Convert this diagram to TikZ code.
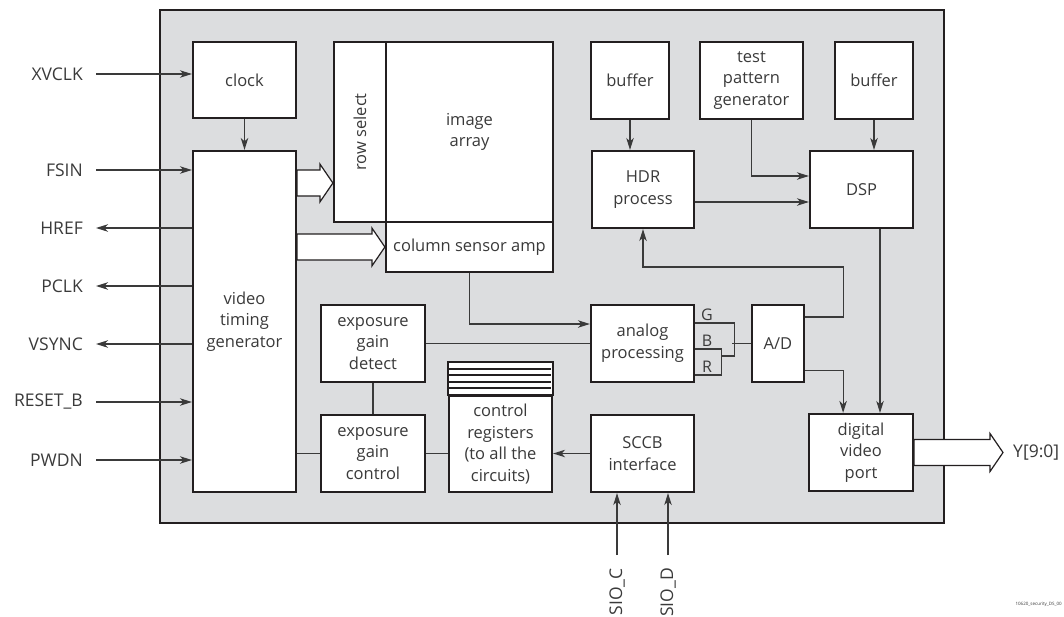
\documentclass[tikz,border=0pt]{standalone}
\usepackage{fontspec}
\usepackage{graphicx}
\setmainfont{Open Sans}
\usepackage{tikz}
\usetikzlibrary{arrows.meta,calc}
\definecolor{chipgray}{HTML}{DCDDDF}
\definecolor{inkdark}{HTML}{231F20}
\definecolor{wiregray}{HTML}{3A3A3A}
\newcommand{\busarrow}[2]{%
  \draw[bus] ($#1+(0,-13)$) -- ($#2+(-13,-13)$) -- ($#2+(-13,-19)$) -- #2
    -- ($#2+(-13,19)$) -- ($#2+(-13,13)$) -- ($#1+(0,13)$) -- cycle;}

\begin{document}
\begin{tikzpicture}[
  x=1pt, y=-1pt,
  chip/.style={draw=inkdark, line width=2pt, fill=chipgray},
  blk/.style={draw=inkdark, line width=2.2pt, fill=white, align=center, inner sep=0pt, text=wiregray, font=\fontsize{16.5}{21.7}\selectfont},
  stack/.style={draw=inkdark, line width=2pt},
  sig/.style={draw=wiregray, line width=1.2pt, -{Stealth[length=12pt, width=7.5pt, inset=3.5pt]}},
  wire/.style={draw=wiregray, line width=1.2pt},
  bus/.style={draw=inkdark, line width=1.2pt, fill=white},
  pinl/.style={anchor=east, inner xsep=13pt, inner ysep=0pt, text=wiregray, font=\fontsize{17.5}{20}\selectfont},
  chan/.style={inner sep=0pt, text=wiregray, font=\fontsize{16}{18}\selectfont}
]
\useasboundingbox (0,0) rectangle (1064,616);
\draw[chip] (160,10) rectangle (944,523);

% blocks
\node[blk, minimum width=103pt, minimum height=76pt] (clock) at (244.5,80) {clock};
\node[blk, minimum width=103pt, minimum height=341pt] (vtg) at (244.5,321.5) {video\\timing\\generator};
\node[blk, minimum width=52pt, minimum height=180pt] (rowsel) at (360,132) {\rotatebox{90}{row select}};
\node[blk, minimum width=167pt, minimum height=180pt] (imgarr) at (469.5,132) {image\\array};
\node[blk, minimum width=167pt, minimum height=50pt] (colamp) at (469.5,247) {column sensor amp};
\node[blk, minimum width=78pt, minimum height=77pt] (buf1) at (630,80.5) {buffer};
\node[blk, minimum width=103pt, minimum height=77pt] (tpg) at (751.5,80.5) {test\\pattern\\generator};
\node[blk, minimum width=78pt, minimum height=77pt] (buf2) at (874,80.5) {buffer};
\node[blk, minimum width=102pt, minimum height=77pt] (hdr) at (643,189.5) {HDR\\process};
\node[blk, minimum width=103pt, minimum height=77pt] (dsp) at (861.5,189.5) {DSP};
\node[blk, minimum width=104pt, minimum height=77pt] (egd) at (373,343.5) {exposure\\gain\\detect};
\node[blk, minimum width=104pt, minimum height=77pt] (egc) at (373,453.5) {exposure\\gain\\control};
\node[blk, minimum width=103pt, minimum height=77pt] (analog) at (642.5,343.5) {analog\\processing};
\node[blk, minimum width=52pt, minimum height=77pt] (ad) at (778,343.5) {A/D};
\node[blk, minimum width=103pt, minimum height=96pt] (ctrl) at (500.5,444) {control\\registers\\(to all the\\circuits)};
\node[blk, minimum width=103pt, minimum height=77pt] (sccb) at (642.5,453.5) {SCCB\\interface};
\node[blk, minimum width=104pt, minimum height=77pt] (dvp) at (861,452.5) {digital\\video\\port};

% register stack
\draw[stack, fill=white] ($(ctrl.north west)+(0,-33)$) rectangle (ctrl.north east);
\foreach \k in {1,...,4}
  \draw[stack] ($(ctrl.north west)+(0,-6.6*\k)$) -- ++(103,0);

% pins
\node[pinl] (xvclk) at (96,74) {XVCLK};
\node[pinl] (fsin) at (96,170) {FSIN};
\node[pinl] (href) at (96,228) {HREF};
\node[pinl] (pclk) at (96,286) {PCLK};
\node[pinl] (vsync) at (96,344) {VSYNC};
\node[pinl] (resetb) at (96,402) {RESET\_B};
\node[pinl] (pwdn) at (96,460) {PWDN};
\node[pinl, rotate=90] (sioc) at (617,555) {SIO\_C};
\node[pinl, rotate=90] (siod) at (668,555) {SIO\_D};
\node[pinl, anchor=west, inner xsep=10pt] (ylbl) at (1003,452.5) {Y[9:0]};
\node[anchor=east, inner sep=0pt, text=wiregray, font=\fontsize{4.5}{5}\selectfont] (docid) at (1062,604) {10620\_security\_DS\_00};

\draw[sig] (xvclk.east) -- (xvclk.east -| clock.west);
\draw[sig] (fsin.east) -- (fsin.east -| vtg.west);
\draw[sig] (href.east -| vtg.west) -- (href.east);
\draw[sig] (pclk.east -| vtg.west) -- (pclk.east);
\draw[sig] (vsync.east -| vtg.west) -- (vsync.east);
\draw[sig] (resetb.east) -- (resetb.east -| vtg.west);
\draw[sig] (pwdn.east) -- (pwdn.east -| vtg.west);
\draw[sig] (sioc.east) -- (sioc.east |- sccb.south);
\draw[sig] (siod.east) -- (siod.east |- sccb.south);

% buses
\coordinate (rs) at (rowsel.west |- 0,183);
\busarrow{(vtg.east |- rs)}{(rs)}
\busarrow{(vtg.east |- colamp.west)}{(colamp.west)}
\busarrow{(dvp.east)}{(ylbl.west)}

% internal connections
\draw[sig] (clock) -- (vtg);
\draw[sig] (colamp.south) |- ($(analog.west)+(0,-19.5)$);
\draw[wire] (egd) -- (analog);
\draw[wire] (egd) -- (egc);
\draw[wire] (vtg.east |- egc.west) -- (egc.west);
\draw[wire] (egc.east) -- (egc.east -| ctrl.west);
\draw[sig] (sccb.west) -- (sccb.west -| ctrl.east);
\draw[sig] (buf1.south) -- (buf1.south |- hdr.north);
\draw[sig] (buf2.south) -- (buf2.south |- dsp.north);
\draw[sig] (tpg.south) |- ($(dsp.west)+(0,-13.5)$);
\draw[sig] ($(hdr.east)+(0,12.5)$) coordinate (h) -- (h -| dsp.west);
\draw[sig] ($(dsp.south)+(18.5,0)$) coordinate (d) -- (d |- dvp.north);

% G/B/R channels
\draw[wire] ($(analog.north east)+(0,19)$) -- ++(39,0) -- ++(0,33) -- ++(-13,0);
\draw[wire] ($(analog.north east)+(0,45)$) -- ++(26,0) -- ++(0,26) -- ++(-26,0);
\draw[wire] (ad.west) -- ++(-19,0);
\node[chan] (gch) at (707,315) {G};
\node[chan] (bch) at (707,341) {B};
\node[chan] (rch) at (707,367) {R};

% A/D outputs
\coordinate (tap) at ($(ad.east)+(38,0)$);
\draw[sig] ($(ad.north east)+(0,13)$) -| ($(tap)+(0,-76.5)$) -| (hdr.south);
\draw[sig] ($(ad.south east)+(0,-13)$) -| (tap |- dvp.north);
\end{tikzpicture}
\end{document}
